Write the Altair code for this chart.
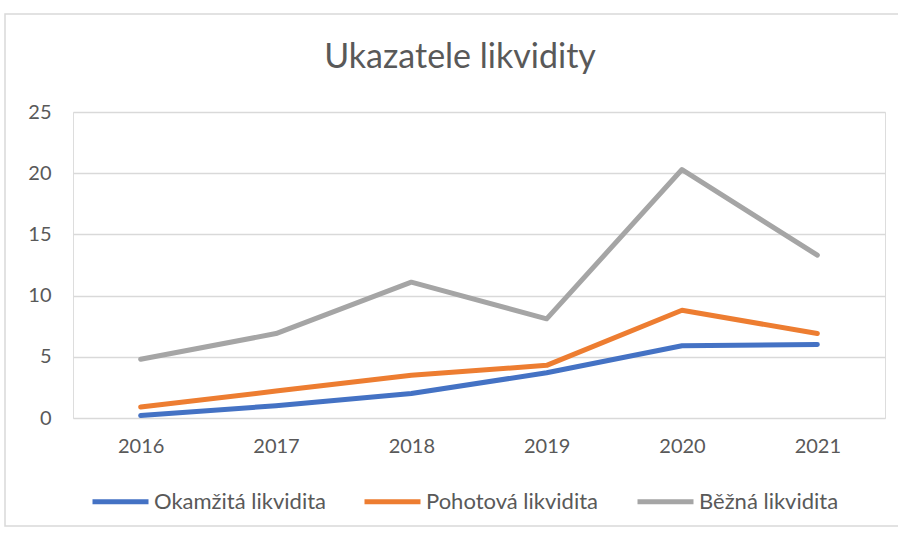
import altair as alt
import pandas as pd

years = ["2016", "2017", "2018", "2019", "2020", "2021"]
okamzita = [0.2, 1.0, 2.0, 3.7, 5.9, 6.0]
pohotova = [0.9, 2.2, 3.5, 4.3, 8.8, 6.9]
bezna = [4.8, 6.9, 11.1, 8.1, 20.3, 13.3]
series = ["Okamžitá likvidita", "Pohotová likvidita", "Běžná likvidita"]
colors = ["#4472C4", "#ED7D31", "#A5A5A5"]
title_text = "Ukazatele likvidity"

rows = []
for name, vals in zip(series, [okamzita, pohotova, bezna]):
    for y, v in zip(years, vals):
        rows.append({"Rok": y, "Hodnota": v, "Ukazatel": name})
df = pd.DataFrame(rows)

FONT = "Lato"
GREY = "#595959"

lines = alt.Chart(df).mark_line(strokeWidth=5, strokeCap="round", strokeJoin="round").encode(
    x=alt.X("Rok:O", sort=years, scale=alt.Scale(type="point", padding=0.5),
            axis=alt.Axis(title=None, labelAngle=0, ticks=False, domain=False,
                          labelPadding=18, labelFontSize=20, labelColor=GREY, labelFont=FONT)),
    y=alt.Y("Hodnota:Q", scale=alt.Scale(domain=[0, 25]),
            axis=alt.Axis(title=None, values=[0, 5, 10, 15, 20, 25], ticks=False, domain=False,
                          labelPadding=22, labelFontSize=20, labelColor=GREY, labelFont=FONT,
                          gridColor="#D9D9D9", gridWidth=1.5)),
    color=alt.Color("Ukazatel:N", sort=series,
                    scale=alt.Scale(domain=series, range=colors),
                    legend=alt.Legend(title=None, orient="none", direction="horizontal",
                                      legendX=17, legendY=359,
                                      symbolType="stroke", symbolSize=3136, symbolStrokeWidth=5,
                                      labelFontSize=22, labelColor=GREY, labelFont=FONT,
                                      labelOffset=3, columnPadding=28, labelLimit=400)),
    order=alt.Order("Rok:O"),
)

frame = alt.Chart(pd.DataFrame({"a": [0]})).mark_rect(
    fill=None, stroke="#D9D9D9", strokeWidth=1.5
).encode(x=alt.value(-68), x2=alt.value(830), y=alt.value(-98), y2=alt.value(414))

title = alt.Chart(pd.DataFrame({"t": [title_text]})).mark_text(
    font=FONT, fontSize=34, color=GREY, align="center", baseline="alphabetic"
).encode(text="t:N", x=alt.value(387), y=alt.value(-44))

chart = alt.layer(frame, lines, title).properties(
    width=812, height=306,
    autosize=alt.AutoSizeParams(type="none"),
    padding={"left": 73, "top": 112, "right": 13, "bottom": 115},
).configure_view(stroke=None).configure(background="white")

chart.save("out.html", embed_options={"renderer": "svg", "actions": False})
